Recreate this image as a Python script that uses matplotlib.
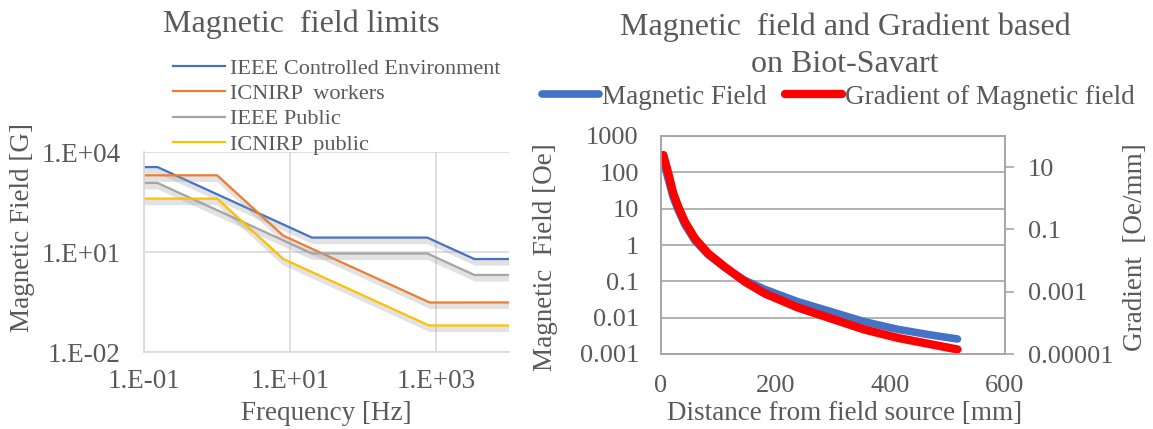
import matplotlib.pyplot as plt
import matplotlib.patheffects as pe

plt.rcParams['font.family'] = ['Liberation Serif', 'DejaVu Serif']
txt = '#595959'
W, H = 1153, 429

# left chart: exposure limits [G] against frequency [Hz]
ieee_ctrl_f = [0.1, 0.153, 20, 759, 3350, 10000]
ieee_ctrl_b = [3530, 3530, 27.1, 27.1, 6.15, 6.15]
icnirp_work_f = [0.1, 1, 8, 25, 820, 10000]
icnirp_work_b = [2000, 2000, 31.3, 10, 0.305, 0.307]
ieee_pub_f = [0.1, 0.153, 20, 759, 3350, 10000]
ieee_pub_b = [1180, 1180, 9.04, 9.04, 2.05, 2.05]
icnirp_pub_f = [0.1, 1, 8, 25, 800, 10000]
icnirp_pub_b = [400, 400, 6.25, 2.0, 0.0625, 0.0625]

# right chart: field [Oe] and gradient [Oe/mm] against distance [mm]
dist_mm = [4, 12.7, 21.4, 30.1, 41.7, 59.1, 82.3, 111.3, 146.1, 180.9, 238.8, 296.9, 354.8, 412.7, 470.8, 517]
field_oe = [209, 64, 20.1, 9.0, 3.6, 1.32, 0.537, 0.24, 0.107, 0.0603, 0.0275, 0.0146, 0.00774, 0.00478,
            0.00333, 0.00259]
grad_oe_mm = [24.5, 6.3, 1.44, 0.533, 0.175, 0.0514, 0.0169, 0.00627, 0.0021, 8.8e-4, 3.1e-4, 1.37e-4,
              6.1e-5, 3.3e-5, 2.05e-5, 1.4e-5]

fig = plt.figure(figsize=(W / 100, H / 100), dpi=100)

# ---- left chart
ax1 = fig.add_axes([144 / W, 1 - 352 / H, 365 / W, 200 / H])
shadow = [pe.SimpleLineShadow(offset=(1, -2.5), shadow_color='#a0a0a0', alpha=0.3, linewidth=4.5), pe.Normal()]
series = [
    (ieee_ctrl_f, ieee_ctrl_b, '#4472C4', 'IEEE Controlled Environment'),
    (icnirp_work_f, icnirp_work_b, '#ED7D31', 'ICNIRP  workers'),
    (ieee_pub_f, ieee_pub_b, '#A5A5A5', 'IEEE Public'),
    (icnirp_pub_f, icnirp_pub_b, '#FFC000', 'ICNIRP  public'),
]
for f, b, c, lab in series:
    ax1.plot(f, b, color=c, lw=1.6, label=lab, path_effects=shadow)
ax1.set_xscale('log')
ax1.set_yscale('log')
ax1.set_xlim(0.1, 1e4)
ax1.set_ylim(1e-2, 1e4)
ax1.set_xticks([0.1, 10, 1000])
ax1.set_xticklabels(['1.E-01', '1.E+01', '1.E+03'])
ax1.set_yticks([1e-2, 1e1, 1e4])
ax1.set_yticklabels(['1.E-02', '1.E+01', '1.E+04'])
ax1.xaxis.set_minor_locator(plt.NullLocator())
ax1.yaxis.set_minor_locator(plt.NullLocator())
ax1.grid(True, color='#d9d9d9', lw=1.2)
ax1.set_axisbelow(True)
for s in ['top', 'right']:
    ax1.spines[s].set_visible(False)
for s in ['left', 'bottom']:
    ax1.spines[s].set_color('#d9d9d9')
    ax1.spines[s].set_linewidth(1.2)
ax1.tick_params(axis='both', length=0, labelsize=19.5, labelcolor=txt)
ax1.tick_params(axis='y', pad=17)
ax1.tick_params(axis='x', pad=12)

leg1 = ax1.legend(loc='upper left', bbox_to_anchor=(173 / W, 1 - 58 / H), bbox_transform=fig.transFigure,
                  frameon=False, fontsize=16, handlelength=2.35, handletextpad=0.2, labelspacing=0.22,
                  borderpad=0, borderaxespad=0, labelcolor=txt)
for ln in leg1.get_lines():
    ln.set_path_effects([])

fig.text(301 / W, 1 - 32 / H, 'Magnetic  field limits', ha='center', va='baseline', fontsize=23, color=txt)
fig.text(326 / W, 1 - 413 / H, 'Frequency [Hz]', ha='center', va='center', fontsize=19.5, color=txt)
fig.text(23 / W, 1 - 227 / H, 'Magnetic Field [G]', ha='center', va='center', rotation=90, fontsize=19.5, color=txt)

# ---- right chart
ax2 = fig.add_axes([661 / W, 1 - 354 / H, 344 / W, 218 / H])
l1, = ax2.plot(dist_mm, field_oe, color='#4472C4', lw=5.5, solid_capstyle='round', label='Magnetic Field')
ax2.set_yscale('log')
ax2.set_xlim(0, 600)
ax2.set_ylim(1e-3, 1e3)
ax2.set_xticks([0, 200, 400, 600])
ax2.set_yticks([1e-3, 1e-2, 1e-1, 1, 10, 100, 1000])
ax2.set_yticklabels(['0.001', '0.01', '0.1', '1', '10', '100', '1000'])
ax2.yaxis.set_minor_locator(plt.NullLocator())
ax2.grid(True, axis='y', color='#a6a6a6', lw=1.2)
ax2.set_axisbelow(True)
ax2.tick_params(axis='both', length=0, labelsize=19, labelcolor=txt)
ax2.tick_params(axis='y', pad=16)
ax2.tick_params(axis='x', pad=15)

ax3 = ax2.twinx()
l2, = ax3.plot(dist_mm, grad_oe_mm, color='#FF0000', lw=6, solid_capstyle='round', label='Gradient of Magnetic field')
ax3.set_yscale('log')
ax3.set_ylim(1e-5, 1e2)
ax3.set_yticks([1e-5, 1e-3, 1e-1, 10])
ax3.set_yticklabels(['0.00001', '0.001', '0.1', '10'])
ax3.yaxis.set_minor_locator(plt.NullLocator())
ax3.tick_params(axis='y', length=6.5, width=1.2, color='#a6a6a6', direction='out', labelsize=19, labelcolor=txt, pad=10)
for a in (ax2, ax3):
    for s in a.spines.values():
        s.set_color('#a6a6a6')
        s.set_linewidth(1.2)

ax2.legend(handles=[l1, l2], loc='center left', bbox_to_anchor=(542 / W, 1 - 97 / H), bbox_transform=fig.transFigure,
           ncol=2, frameon=False, fontsize=19.5, handlelength=2.1, handletextpad=0.1, columnspacing=0.7,
           borderpad=0, borderaxespad=0, labelcolor=txt)

fig.text(845 / W, 1 - 35 / H, 'Magnetic  field and Gradient based', ha='center', va='baseline', fontsize=23, color=txt)
fig.text(845 / W, 1 - 72 / H, 'on Biot-Savart', ha='center', va='baseline', fontsize=23, color=txt)
fig.text(845 / W, 1 - 413 / H, 'Distance from field source [mm]', ha='center', va='center', fontsize=19.5, color=txt)
fig.text(545 / W, 1 - 257 / H, 'Magnetic  Field [Oe]', ha='center', va='center', rotation=90, fontsize=19.5, color=txt)
fig.text(1135 / W, 1 - 247 / H, 'Gradient  [Oe/mm]', ha='center', va='center', rotation=90, fontsize=19.5, color=txt)

fig.savefig('out.png', dpi=100)
